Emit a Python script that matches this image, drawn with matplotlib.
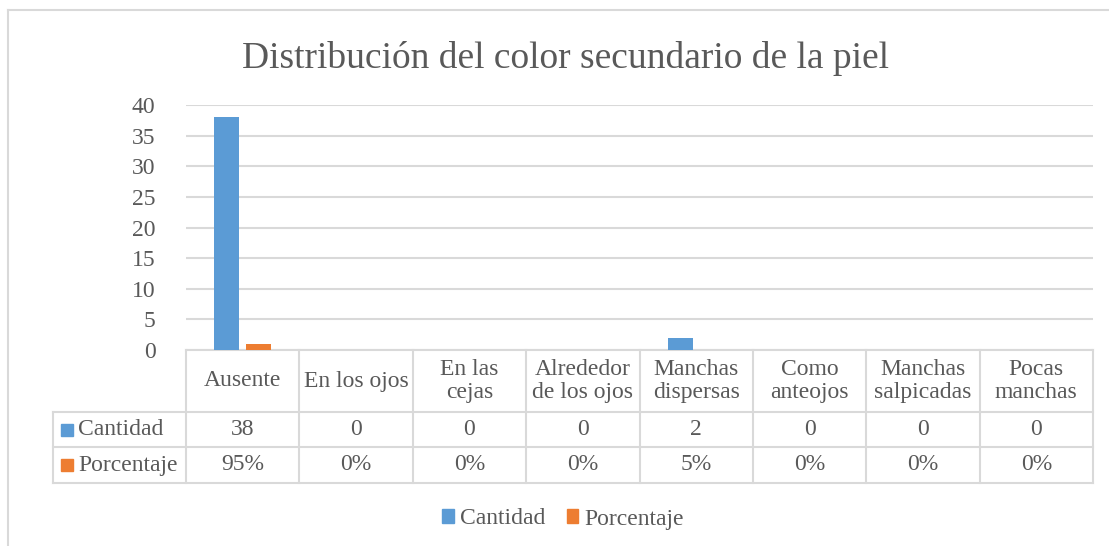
import matplotlib
matplotlib.use("Agg")
import matplotlib.pyplot as plt
from matplotlib.lines import Line2D
from matplotlib.patches import Rectangle
import matplotlib.transforms as mtransforms

categories = ["Ausente", "En los ojos", "En las\ncejas", "Alrededor\nde los ojos",
              "Manchas\ndispersas", "Como\nanteojos", "Manchas\nsalpicadas", "Pocas\nmanchas"]
cantidad = [38, 0, 0, 0, 2, 0, 0, 0]
porcentaje = [0.95, 0, 0, 0, 0.05, 0, 0, 0]
cantidad_labels = ["38", "0", "0", "0", "2", "0", "0", "0"]
porcentaje_labels = ["95%", "0%", "0%", "0%", "5%", "0%", "0%", "0%"]
series_names = ["Cantidad", "Porcentaje"]
yticks = [0, 5, 10, 15, 20, 25, 30, 35, 40]
title = "Distribución del color secundario de la piel"

BLUE = "#5B9BD5"
ORANGE = "#ED7D31"
GRID = "#D9D9D9"
TXT = "#595959"
FONT = ["Liberation Serif", "DejaVu Serif"]
FS = 17

plt.rcParams["font.family"] = FONT

W, H = 1109, 546
fig = plt.figure(figsize=(W / 100, H / 100), dpi=100)

left, right, top, bottom = 186, 1093, 105, 350
ax = fig.add_axes([left / W, 1 - bottom / H, (right - left) / W, (bottom - top) / H])
n = len(categories)
x = list(range(n))
bw = 0.22
off = 0.14
ax.bar([i - off for i in x], cantidad, width=bw, color=BLUE, zorder=3)
ax.bar([i + off for i in x], porcentaje, width=bw, color=ORANGE, zorder=3)
ax.set_xlim(-0.5, n - 0.5)
ax.set_ylim(0, 40)
ax.set_yticks(yticks)
ax.set_yticklabels([str(t) for t in yticks], fontsize=FS, color=TXT)
ax.tick_params(axis="y", length=0, pad=22)
ax.set_xticks([])
for s in ax.spines.values():
    s.set_visible(False)
ax.yaxis.grid(True, color=GRID, linewidth=1.5, zorder=0)
ax.set_axisbelow(True)

# table
tr = mtransforms.blended_transform_factory(ax.transData, ax.transAxes)
px = (bottom - top)
y_rows = [0, -(412 - bottom) / px, -(447 - bottom) / px, -(483 - bottom) / px]
x_left_label = -0.5 - (left - 53) / ((right - left) / n)
lw = 1.5
ax.plot([-0.5, n - 0.5], [y_rows[0]] * 2, transform=tr, color=GRID, lw=lw, clip_on=False)
for yy in y_rows[1:]:
    ax.plot([x_left_label, n - 0.5], [yy] * 2, transform=tr, color=GRID, lw=lw, clip_on=False)
for i in range(n + 1):
    ax.plot([i - 0.5] * 2, [y_rows[0], y_rows[3]], transform=tr, color=GRID, lw=lw, clip_on=False)
ax.plot([x_left_label] * 2, [y_rows[1], y_rows[3]], transform=tr, color=GRID, lw=lw, clip_on=False)

for i in range(n):
    ax.text(i, (y_rows[0] + y_rows[1]) / 2, categories[i], transform=tr, ha="center", va="center",
            fontsize=FS, color=TXT, linespacing=1.15, clip_on=False)
    ax.text(i, (y_rows[1] + y_rows[2]) / 2, cantidad_labels[i], transform=tr, ha="center", va="center",
            fontsize=FS, color=TXT, clip_on=False)
    ax.text(i, (y_rows[2] + y_rows[3]) / 2, porcentaje_labels[i], transform=tr, ha="center", va="center",
            fontsize=FS, color=TXT, clip_on=False)

for r, (name, col) in enumerate(zip(series_names, [BLUE, ORANGE])):
    yc = (y_rows[1 + r] + y_rows[2 + r]) / 2
    ax.plot([x_left_label + 0.12], [yc], transform=tr, marker="s", markersize=8.5,
            color=col, linestyle="none", clip_on=False)
    ax.text(x_left_label + 0.22, yc, name, transform=tr, ha="left", va="center",
            fontsize=FS, color=TXT, clip_on=False)

# title
fig.text(566 / W, 1 - 58 / H, title, ha="center", va="center", fontsize=27, color=TXT)

# legend
handles = [Rectangle((0, 0), 1, 1, color=BLUE), Rectangle((0, 0), 1, 1, color=ORANGE)]
fig.legend(handles, series_names, loc="center", bbox_to_anchor=(563 / W, 1 - 519 / H), ncol=2,
           frameon=False, fontsize=FS, labelcolor=TXT, handlelength=0.5, handleheight=0.5,
           handletextpad=0.25, columnspacing=0.9)

# chart frame
fig.add_artist(Line2D([8 / W, 1], [1 - 10 / H, 1 - 10 / H], color=GRID, lw=1.5))
fig.add_artist(Line2D([8 / W, 8 / W], [0, 1 - 10 / H], color=GRID, lw=1.5))

fig.savefig("out.png", dpi=100)
